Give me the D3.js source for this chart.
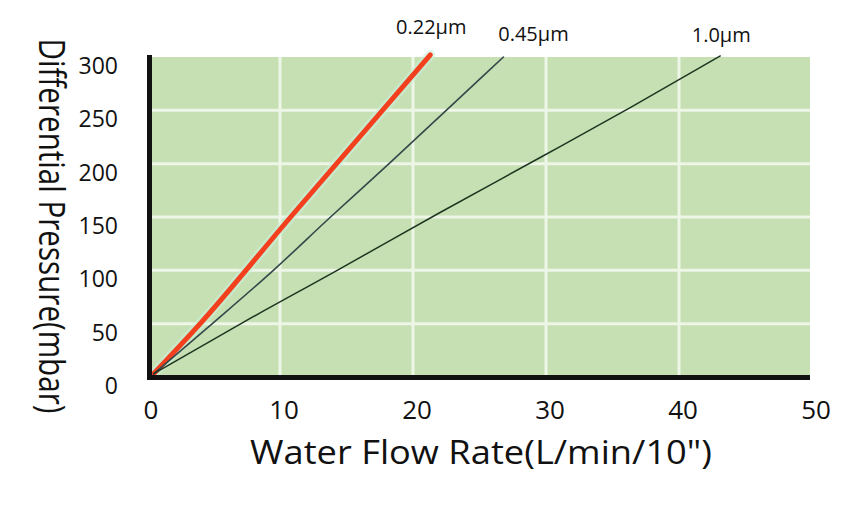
<!DOCTYPE html>
<html>
<head>
<meta charset="utf-8">
<script src="https://cdn.jsdelivr.net/npm/d3@7"></script>
<style>
	body { margin: 0; background: #fff; }
	text { font-family: "Open Sans", "DejaVu Sans", sans-serif; fill: #111; }
</style>
</head>
<body>
<div id="chartDiv"></div>
<script>
// data
let poreSizes = ["0.22μm", "0.45μm", "1.0μm"]
let flow022 = [0.5, 4.0, 10.8, 21.3]
let dp022 = [3, 50, 150, 302]
let flow045 = [0.5, 5.0, 9.5, 13.8, 18.2, 22.5, 26.8]
let dp045 = [3, 51, 100, 150, 200, 250, 300]
let flow10 = [0.5, 7.2, 14.3, 22.0, 29.6, 36.4, 43.1]
let dp10 = [3, 51, 100, 154, 206, 253, 301]
let xTicks = [0, 10, 20, 30, 40, 50]
let yTicks = [0, 50, 100, 150, 200, 250, 300]

let chartWidth = 848
let chartHeight = 508

let svg = d3.select("#chartDiv")
	.append("svg")
	.attr("width", chartWidth)
	.attr("height", chartHeight)

let x = d3.scaleLinear().domain([0, 50]).range([147, 812])
let y = d3.scaleLinear().domain([0, 300]).range([377, 57])

// green plot area
svg.append("rect")
	.attr("x", x(0))
	.attr("y", y(300))
	.attr("width", 810 - x(0))
	.attr("height", y(0) - y(300))
	.attr("fill", "#c6dfb3")

// white grid
svg.append("g")
	.selectAll("line")
	.data(xTicks.slice(1, -1))
	.enter()
	.append("line")
	.attr("x1", d => x(d))
	.attr("x2", d => x(d))
	.attr("y1", y(300))
	.attr("y2", y(0))
	.attr("stroke", "#eef6e8")
	.attr("stroke-width", 3)

svg.append("g")
	.selectAll("line")
	.data(yTicks.slice(1, -1))
	.enter()
	.append("line")
	.attr("x1", x(0))
	.attr("x2", 810)
	.attr("y1", d => y(d))
	.attr("y2", d => y(d))
	.attr("stroke", "#eef6e8")
	.attr("stroke-width", 3)

// curves
let series = [
	{ name: poreSizes[0], pts: flow022.map((f, i) => [f, dp022[i]]), color: "#f2401f", width: 5, dx: 1, dy: -21 },
	{ name: poreSizes[1], pts: flow045.map((f, i) => [f, dp045[i]]), color: "#34484a", width: 1.6, dx: 30, dy: -16 },
	{ name: poreSizes[2], pts: flow10.map((f, i) => [f, dp10[i]]), color: "#1d3520", width: 1.5, dx: 1, dy: -14 }
]

let line = d3.line()
	.x(d => x(d[0]))
	.y(d => y(d[1]))
	.curve(d3.curveMonotoneX)

// soft halo around the red curve
svg.append("path")
	.attr("d", line(series[0].pts))
	.attr("fill", "none")
	.attr("stroke", "#c9f0d8")
	.attr("stroke-width", 10)
	.attr("stroke-linecap", "round")
	.attr("opacity", 0.6)

svg.selectAll(".curve")
	.data(series)
	.enter()
	.append("path")
	.attr("class", "curve")
	.attr("d", d => line(d.pts))
	.attr("fill", "none")
	.attr("stroke", d => d.color)
	.attr("stroke-width", d => d.width)
	.attr("stroke-linecap", "round")

svg.selectAll(".curveLabel")
	.data(series)
	.enter()
	.append("text")
	.attr("class", "curveLabel")
	.attr("x", d => x(d.pts[d.pts.length - 1][0]) + d.dx)
	.attr("y", d => y(d.pts[d.pts.length - 1][1]) + d.dy)
	.attr("text-anchor", "middle")
	.attr("font-size", 20)
	.text(d => d.name)

// black axis lines
svg.append("line")
	.attr("x1", 149.5).attr("x2", 149.5)
	.attr("y1", 55).attr("y2", 380)
	.attr("stroke", "#111").attr("stroke-width", 5)
svg.append("line")
	.attr("x1", 147).attr("x2", 810)
	.attr("y1", 377.5).attr("y2", 377.5)
	.attr("stroke", "#111").attr("stroke-width", 5)

// tick labels
svg.append("g")
	.selectAll("text")
	.data(yTicks)
	.enter()
	.append("text")
	.attr("x", 118)
	.attr("y", d => y(d) + 17)
	.attr("text-anchor", "end")
	.attr("font-size", 23)
	.text(d => d)

svg.append("g")
	.selectAll("text")
	.data(xTicks)
	.enter()
	.append("text")
	.attr("x", d => x(d) + 4)
	.attr("y", 419)
	.attr("text-anchor", "middle")
	.attr("font-size", 26)
	.text(d => d)

// axis titles
svg.append("text")
	.attr("transform", "translate(39,226) rotate(90)")
	.attr("text-anchor", "middle")
	.attr("font-size", 36)
	.attr("textLength", 375)
	.attr("lengthAdjust", "spacingAndGlyphs")
	.text("Differential Pressure(mbar)")

svg.append("text")
	.attr("x", 481)
	.attr("y", 464)
	.attr("text-anchor", "middle")
	.attr("font-size", 32)
	.attr("textLength", 462)
	.attr("lengthAdjust", "spacingAndGlyphs")
	.text("Water Flow Rate(L/min/10\")")
</script>
</body>
</html>
